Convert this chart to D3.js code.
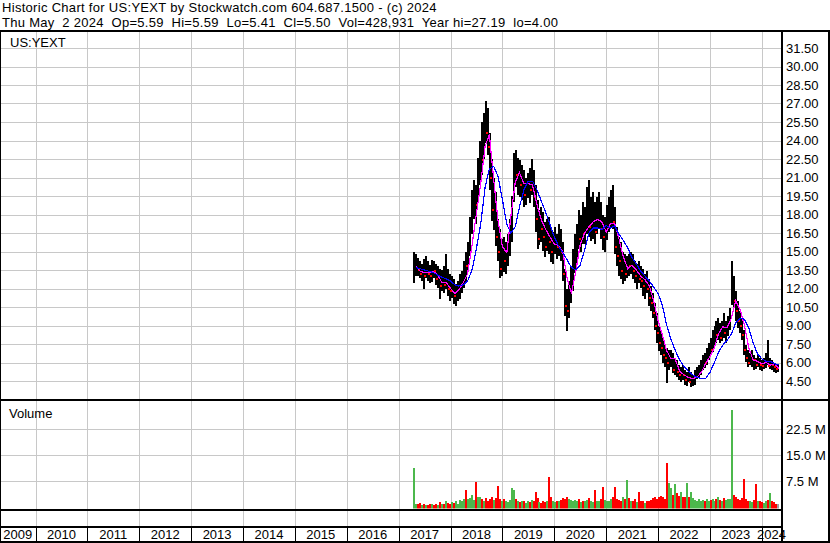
<!DOCTYPE html>
<html>
<head>
<meta charset="utf-8">
<script src="https://cdn.jsdelivr.net/npm/d3@7"></script>
<style>
  body { margin: 0; background: #fff; }
  svg { display: block; }
  text { font-family: Arial, "Liberation Sans", sans-serif; white-space: pre; }
</style>
</head>
<body>
<svg id="chart" width="830" height="543"></svg>
<script>
// ---- data ----
var headerLine1 = "Historic Chart for US:YEXT by Stockwatch.com 604.687.1500 - (c) 2024";
var headerLine2 = "Thu May  2 2024  Op=5.59  Hi=5.59  Lo=5.41  Cl=5.50  Vol=428,931  Year hi=27.19  lo=4.00";
var symbolLabel = "US:YEXT";

// one bar every two weeks, starting at the listing
var firstBarDate = "2017-04-13";
var barHigh = [
  15.0, 14.8, 14.5, 14.2, 14.0, 14.4, 14.6, 14.2, 13.9, 14.3,
  14.2, 14.0, 13.8, 13.6, 13.5, 13.8, 14.8, 13.6, 13.2, 13.0,
  12.8, 12.4, 12.6, 13.2, 13.4, 14.2, 15.0, 15.8, 17.8, 20.0,
  20.8, 20.4, 22.6, 24.0, 25.5, 26.2, 27.2, 26.6, 24.6, 22.5,
  21.0, 19.8, 17.6, 16.8, 16.0, 16.2, 15.8, 16.4, 17.6, 19.5,
  23.0, 23.2, 22.6, 22.4, 22.0, 21.6, 21.0, 21.4, 21.8, 22.5,
  21.6, 20.4, 19.2, 18.4, 18.6, 18.2, 17.4, 17.6, 17.8, 17.0,
  16.6, 17.0, 16.4, 17.2, 16.8, 15.8, 13.6, 12.0, 12.6, 13.8,
  15.2, 16.4, 17.2, 18.4, 18.0, 19.0, 18.6, 20.2, 20.8, 19.4,
  19.8, 19.0, 19.4, 19.8, 19.0, 18.0, 17.8, 18.8, 19.4, 20.0,
  20.4, 18.6, 17.0, 16.2, 15.8, 15.0, 14.8, 14.6, 14.8, 15.0,
  14.8, 14.2, 14.0, 14.2, 13.8, 13.6, 13.2, 13.4, 12.8, 12.2,
  11.6, 10.8, 10.0, 9.0, 8.6, 8.0, 7.4, 7.2, 7.0, 7.0,
  6.8, 6.4, 6.2, 5.8, 5.6, 5.8, 5.4, 5.2, 5.6, 5.2,
  5.0, 5.4, 5.6, 5.8, 6.2, 6.6, 6.8, 7.2, 7.6, 8.0,
  8.6, 9.0, 9.4, 9.6, 9.2, 9.4, 10.0, 9.4, 9.8, 10.4,
  14.2, 13.0, 11.8, 11.0, 10.2, 9.6, 8.6, 7.4, 7.0, 6.8,
  7.0, 6.6, 6.4, 6.6, 6.4, 6.2, 6.4, 6.8, 7.8, 6.4,
  6.2, 6.0, 5.9, 5.8
];
var barLow = [
  12.5, 13.0, 13.0, 12.8, 12.6, 12.0, 12.8, 12.6, 12.4, 12.5,
  12.8, 12.3, 12.0, 11.2, 11.8, 11.6, 12.0, 11.4, 11.0, 11.2,
  10.8, 10.6, 11.0, 11.2, 11.6, 12.0, 12.6, 13.4, 14.6, 16.4,
  17.6, 17.2, 19.0, 20.4, 21.2, 22.5, 23.8, 22.8, 20.0, 17.5,
  16.8, 15.4, 14.2, 12.8, 13.0, 13.4, 13.2, 13.8, 14.6, 15.8,
  19.0, 20.2, 19.6, 19.4, 19.2, 18.6, 18.8, 19.4, 19.0, 19.6,
  18.6, 16.6, 15.2, 15.6, 15.8, 15.0, 14.6, 15.0, 14.8, 14.2,
  14.0, 14.8, 14.4, 14.6, 14.2, 12.6, 9.8, 8.6, 9.6, 10.8,
  11.8, 13.2, 14.0, 15.2, 15.0, 15.6, 15.6, 16.4, 16.2, 15.8,
  16.0, 15.6, 16.4, 16.8, 16.0, 15.2, 15.0, 16.0, 16.6, 17.0,
  16.8, 14.8, 13.8, 13.0, 12.8, 12.4, 12.6, 12.8, 13.0, 13.2,
  12.8, 12.4, 12.0, 12.4, 12.0, 11.4, 11.2, 11.6, 10.6, 10.2,
  9.6, 8.6, 7.6, 7.0, 6.6, 6.0, 5.6, 4.4, 5.4, 5.6,
  5.2, 5.0, 4.8, 4.6, 4.4, 4.6, 4.2, 4.1, 4.4, 4.0,
  4.1, 4.2, 4.6, 4.8, 5.0, 5.4, 5.6, 5.8, 6.2, 6.6,
  6.8, 7.4, 7.6, 7.8, 7.6, 7.8, 8.0, 7.6, 8.2, 8.6,
  10.6, 10.4, 9.4, 8.8, 8.4, 7.8, 6.6, 6.0, 5.6, 5.8,
  5.6, 5.4, 5.5, 5.6, 5.4, 5.3, 5.5, 5.6, 5.8, 5.5,
  5.4, 5.3, 5.2, 5.2
];
var barClose = [
  13.5, 14.0, 13.5, 13.2, 13.6, 13.0, 13.8, 13.2, 13.0, 13.6,
  13.4, 12.8, 13.0, 12.2, 12.6, 12.3, 12.8, 12.0, 11.8, 12.2,
  11.4, 11.6, 11.9, 12.4, 12.8, 14.0, 13.8, 15.2, 17.0, 19.2,
  19.6, 18.8, 21.8, 23.2, 22.4, 25.0, 24.6, 23.5, 21.0, 18.4,
  19.4, 16.2, 15.0, 13.6, 15.2, 14.2, 14.8, 15.6, 16.8, 18.8,
  21.8, 21.2, 21.6, 20.4, 21.0, 19.6, 20.4, 20.8, 20.0, 21.2,
  19.4, 17.6, 16.0, 17.2, 16.8, 16.2, 15.4, 16.6, 15.8, 15.0,
  15.6, 16.0, 15.4, 16.2, 15.0, 13.2, 10.6, 10.2, 11.8, 12.6,
  14.2, 15.6, 16.4, 16.0, 17.2, 16.4, 17.6, 18.0, 17.0, 17.6,
  18.4, 16.6, 17.8, 18.6, 16.8, 16.2, 16.8, 17.8, 18.2, 19.2,
  17.4, 15.4, 14.6, 14.2, 13.4, 13.6, 13.2, 14.0, 13.8, 14.2,
  13.4, 13.0, 13.4, 12.8, 12.6, 12.2, 12.6, 12.0, 11.2, 10.8,
  10.0, 9.0, 8.4, 7.6, 7.2, 6.6, 6.4, 6.0, 6.2, 6.6,
  5.4, 5.6, 5.2, 5.0, 5.2, 5.0, 4.6, 4.8, 4.4, 4.6,
  4.7, 5.0, 5.2, 5.6, 5.8, 6.2, 6.0, 6.8, 7.2, 7.0,
  8.0, 8.6, 8.2, 9.0, 8.0, 9.2, 8.4, 8.8, 9.4, 9.8,
  12.6, 11.0, 10.2, 9.4, 9.0, 8.2, 7.0, 6.4, 6.0, 6.2,
  6.4, 6.2, 5.8, 6.2, 5.8, 5.7, 6.0, 6.2, 5.7, 5.9,
  5.8, 5.6, 5.5, 5.5
];
// volume in millions of shares
var barVolume = [
  11.2, 1.0, 0.8, 1.2, 0.6, 0.9, 0.5, 0.7, 0.8, 1.0,
  0.6, 0.9, 0.7, 1.3, 0.8, 1.0, 1.8, 1.1, 0.9, 1.4,
  1.2, 1.6, 1.0, 2.0, 1.6, 2.4, 4.9, 2.2, 2.5, 3.5,
  2.0, 7.2, 2.8, 3.0, 2.2, 1.8, 2.5, 1.6, 2.4, 3.0,
  2.0, 2.6, 6.0, 2.4, 1.8, 2.2, 1.6, 1.4, 2.0, 5.5,
  5.0, 2.2, 1.6, 1.4, 1.8, 1.6, 1.2, 1.8, 1.4, 2.0,
  1.6, 4.4, 2.6, 1.4, 1.2, 1.6, 1.4, 1.8, 8.6, 3.0,
  1.8, 1.4, 1.6, 1.8, 2.0, 2.6, 2.4, 3.0, 2.2, 2.0,
  1.8, 2.0, 1.6, 2.2, 1.4, 1.8, 1.6, 2.0, 2.6, 1.8,
  1.4, 5.0, 1.8, 1.6, 2.2, 5.7, 2.0, 1.8, 1.6, 2.4,
  2.8, 5.7, 2.4, 2.0, 1.8, 3.0, 2.2, 7.7, 2.6, 1.6,
  1.8, 2.2, 1.4, 4.4, 1.8, 1.6, 1.2, 1.6, 1.8, 2.0,
  2.6, 3.0, 2.4, 2.8, 3.2, 3.0, 2.4, 12.7, 7.0, 5.4,
  3.6, 6.6, 4.0, 3.2, 4.4, 3.0, 2.8, 7.0, 3.0, 4.4,
  2.6, 2.0, 1.8, 2.2, 1.6, 2.0, 1.8, 2.4, 1.6, 2.0,
  2.4, 1.8, 2.2, 3.0, 2.0, 1.8, 2.6, 2.0, 2.2, 2.4,
  28.0, 3.5, 2.8, 2.4, 2.0, 2.6, 8.1, 2.2, 1.8, 1.6,
  1.4, 2.0, 6.5, 1.8, 1.6, 1.4, 1.2, 1.6, 2.0, 3.9,
  1.8, 1.4, 1.0, 0.8
];

// moving averages, one value per month from May 2017
var firstMaMonth = "2017-05-01";
var maShort = [
  13.8, 13.4, 13.3, 13.3, 13.4, 13.1, 12.5, 12.5, 12.0, 11.6,
  11.9, 12.5, 13.2, 15.5, 18.0, 20.5, 23.5, 24.5, 20.8, 17.5,
  15.4, 14.9, 17.8, 20.6, 21.4, 20.5, 20.5, 20.4, 18.8, 17.6,
  16.8, 16.2, 15.6, 15.5, 15.0, 12.8, 11.6, 13.4, 15.5, 16.5,
  17.0, 17.4, 17.6, 17.4, 16.6, 17.3, 17.3, 16.0, 14.6, 13.6,
  13.9, 13.5, 13.0, 12.7, 12.2, 11.0, 9.4, 8.2, 7.0, 6.3,
  6.3, 5.3, 5.0, 4.8, 4.7, 4.8, 5.2, 5.9, 6.5, 7.2,
  8.3, 8.9, 8.8, 9.6, 11.0, 10.3, 9.0, 7.2, 6.2, 6.1,
  5.9, 6.0, 5.8, 5.9, 5.5
];
var maLong = [
  13.7, 13.6, 13.5, 13.4, 13.3, 13.1, 12.9, 12.8, 12.6, 12.3,
  12.2, 12.3, 12.6, 13.5, 15.2, 17.2, 20.2, 21.7, 21.9, 21.1,
  19.2, 17.2, 16.5, 17.0, 18.6, 20.0, 20.7, 20.7, 20.0, 19.1,
  18.2, 17.2, 16.2, 15.4, 14.9, 14.3, 13.7, 13.5, 13.9, 15.1,
  16.5, 16.9, 16.9, 16.8, 17.1, 16.9, 17.1, 16.4, 15.9, 15.3,
  14.5, 14.0, 13.4, 13.0, 12.6, 12.1, 11.6, 10.6, 9.1, 7.9,
  7.0, 6.2, 5.7, 5.3, 5.0, 4.8, 4.7, 4.7, 5.2, 6.0,
  6.8, 7.4, 7.8, 8.3, 9.2, 9.6, 9.5, 8.8, 7.6, 6.7,
  6.3, 6.1, 6.1, 5.9, 5.8
];

var priceTicks = [31.5, 30, 28.5, 27, 25.5, 24, 22.5, 21, 19.5, 18, 16.5, 15, 13.5, 12, 10.5, 9, 7.5, 6, 4.5];
var volumeTicks = [22.5, 15, 7.5];
var yearLabels = [2009, 2010, 2011, 2012, 2013, 2014, 2015, 2016, 2017, 2018, 2019, 2020, 2021, 2022, 2023, 2024];

// ---- layout ----
var W = 830, H = 543;
var plotRight = 781;
var priceTop = 32, priceBottom = 399;
var volTop = 401, volBottom = 508.5;
var midBottom = 526;
var gridColor = "#c8c8c8";

var svg = d3.select("#chart");
svg.append("rect").attr("width", W).attr("height", H).attr("fill", "#fff");

var x = d3.scaleTime()
    .domain([new Date(2010, 0, 1), new Date(2024, 0, 1)])
    .range([35.5, 761.8]);
var y = d3.scaleLinear().domain([4.5, 31.5]).range([381, 48]);
var yV = d3.scaleLinear().domain([0, 22.5]).range([507, 429]);

var parse = d3.timeParse("%Y-%m-%d");
var start = parse(firstBarDate);
var bars = barHigh.map(function (h, i) {
    return {
        date: d3.timeDay.offset(start, 14 * i),
        high: h, low: barLow[i], close: barClose[i], vol: barVolume[i],
        dir: i === 0 ? 1 : Math.sign(barClose[i] - barClose[i - 1])
    };
});
var maStart = parse(firstMaMonth);
var maData = maShort.map(function (v, i) {
    return { date: d3.timeMonth.offset(maStart, i), s: v, l: maLong[i] };
});

var px = function (v) { return Math.round(v) + 0.5; };
var yearStarts = yearLabels.slice(1).map(function (yr) { return new Date(yr, 0, 1); });

// clip regions
var defs = svg.append("defs");
defs.append("clipPath").attr("id", "clipPrice").append("rect")
    .attr("x", 0).attr("y", priceTop).attr("width", plotRight).attr("height", priceBottom - priceTop);
defs.append("clipPath").attr("id", "clipVol").append("rect")
    .attr("x", 0).attr("y", volTop).attr("width", plotRight).attr("height", volBottom - volTop);

// ---- grid ----
var grid = svg.append("g").attr("stroke", gridColor).attr("stroke-width", 1)
    .attr("shape-rendering", "crispEdges");
grid.selectAll(".hp").data(priceTicks).enter().append("line")
    .attr("x1", 0).attr("x2", plotRight)
    .attr("y1", function (d) { return px(y(d)); }).attr("y2", function (d) { return px(y(d)); });
grid.selectAll(".hv").data(volumeTicks).enter().append("line")
    .attr("x1", 0).attr("x2", plotRight)
    .attr("y1", function (d) { return px(yV(d)); }).attr("y2", function (d) { return px(yV(d)); });
grid.selectAll(".vy").data(yearStarts).enter().append("line")
    .attr("x1", function (d) { return px(x(d)); }).attr("x2", function (d) { return px(x(d)); })
    .attr("y1", priceTop).attr("y2", midBottom);

// ---- price bars ----
var price = svg.append("g").attr("clip-path", "url(#clipPrice)").attr("shape-rendering", "crispEdges");
price.selectAll("rect.bar").data(bars).enter().append("rect")
    .attr("class", "bar")
    .attr("x", function (d) { return Math.round(x(d.date)); })
    .attr("width", 2)
    .attr("y", function (d) { return Math.round(y(d.high)); })
    .attr("height", function (d) { return Math.max(1, Math.round(y(d.low) - y(d.high))); })
    .attr("fill", "#000");
price.selectAll("rect.tick").data(bars.filter(function (d) { return d.dir < 0; })).enter().append("rect")
    .attr("class", "tick")
    .attr("x", function (d) { return Math.round(x(d.date)) + 1; })
    .attr("width", 2)
    .attr("y", function (d) { return Math.round(y(d.close)) - 1; })
    .attr("height", 2)
    .attr("fill", "#ff0000");

var lineS = d3.line().x(function (d) { return x(d.date); }).y(function (d) { return y(d.s); });
var lineL = d3.line().x(function (d) { return x(d.date); }).y(function (d) { return y(d.l); });
price.append("path").datum(maData).attr("d", lineS)
    .attr("fill", "none").attr("stroke", "#ff00ff").attr("stroke-width", 1.2);
price.append("path").datum(maData).attr("d", lineL)
    .attr("fill", "none").attr("stroke", "#0000ff").attr("stroke-width", 1.2);

// ---- volume bars ----
var vol = svg.append("g").attr("clip-path", "url(#clipVol)").attr("shape-rendering", "crispEdges");
vol.selectAll("rect").data(bars).enter().append("rect")
    .attr("x", function (d) { return Math.round(x(d.date)); })
    .attr("width", 2)
    .attr("y", function (d) { return Math.round(yV(d.vol)); })
    .attr("height", function (d) { return volBottom - Math.round(yV(d.vol)); })
    .attr("fill", function (d) { return d.dir > 0 ? "#4cb84c" : (d.dir < 0 ? "#ff0000" : "#a0a0a0"); });

// ---- frame ----
var frame = svg.append("g").attr("fill", "#000").attr("shape-rendering", "crispEdges");
frame.append("rect").attr("x", 0).attr("y", 30).attr("width", W).attr("height", 2);
frame.append("rect").attr("x", 0).attr("y", priceBottom).attr("width", W).attr("height", 2);
frame.append("rect").attr("x", 0).attr("y", volBottom).attr("width", plotRight + 2).attr("height", 2);
frame.append("rect").attr("x", 0).attr("y", midBottom).attr("width", plotRight + 2).attr("height", 2);
frame.append("rect").attr("x", 0).attr("y", H - 2).attr("width", W).attr("height", 2);
frame.append("rect").attr("x", plotRight).attr("y", 30).attr("width", 2).attr("height", H - 30);
frame.append("rect").attr("x", W - 2).attr("y", 30).attr("width", 2).attr("height", H - 30);
frame.append("rect").attr("x", 0).attr("y", 30).attr("width", 1).attr("height", H - 30);
frame.selectAll(".sep").data(yearStarts).enter().append("rect")
    .attr("x", function (d) { return Math.round(x(d)); })
    .attr("y", midBottom).attr("width", 1).attr("height", H - midBottom);

// ---- axes ----
var axP = svg.append("g").attr("transform", "translate(" + (plotRight + 2) + ",0)")
    .call(d3.axisRight(y).tickValues(priceTicks).tickSize(0).tickPadding(3)
        .tickFormat(d3.format(".2f")));
axP.select(".domain").remove();
axP.selectAll("text").attr("font-size", 13).attr("font-family", "Arial, 'Liberation Sans', sans-serif")
    .attr("fill", "#000");

var axV = svg.append("g").attr("transform", "translate(" + (plotRight + 2) + ",0)")
    .call(d3.axisRight(yV).tickValues(volumeTicks).tickSize(0).tickPadding(3)
        .tickFormat(function (d) { return d.toFixed(1) + " M"; }));
axV.select(".domain").remove();
axV.selectAll("text").attr("font-size", 13).attr("font-family", "Arial, 'Liberation Sans', sans-serif")
    .attr("fill", "#000");

// year labels, centred in their cells
svg.append("g").selectAll("text").data(yearLabels).enter().append("text")
    .attr("x", function (yr) {
        var a = Math.max(0, x(new Date(yr, 0, 1)));
        var b = Math.min(plotRight, x(new Date(yr + 1, 0, 1)));
        return (a + b) / 2;
    })
    .attr("y", 539)
    .attr("text-anchor", "middle")
    .attr("font-size", 13)
    .text(function (yr) { return yr; });

// ---- texts ----
svg.append("text").attr("x", 2).attr("y", 12).attr("font-size", 13)
    .attr("letter-spacing", 0.3).text(headerLine1);
svg.append("text").attr("x", 2).attr("y", 27).attr("font-size", 13)
    .attr("letter-spacing", 0.28).text(headerLine2);
svg.append("text").attr("x", 10).attr("y", 47).attr("font-size", 13).text(symbolLabel);
svg.append("text").attr("x", 9).attr("y", 418).attr("font-size", 13).text("Volume");
</script>
</body>
</html>
